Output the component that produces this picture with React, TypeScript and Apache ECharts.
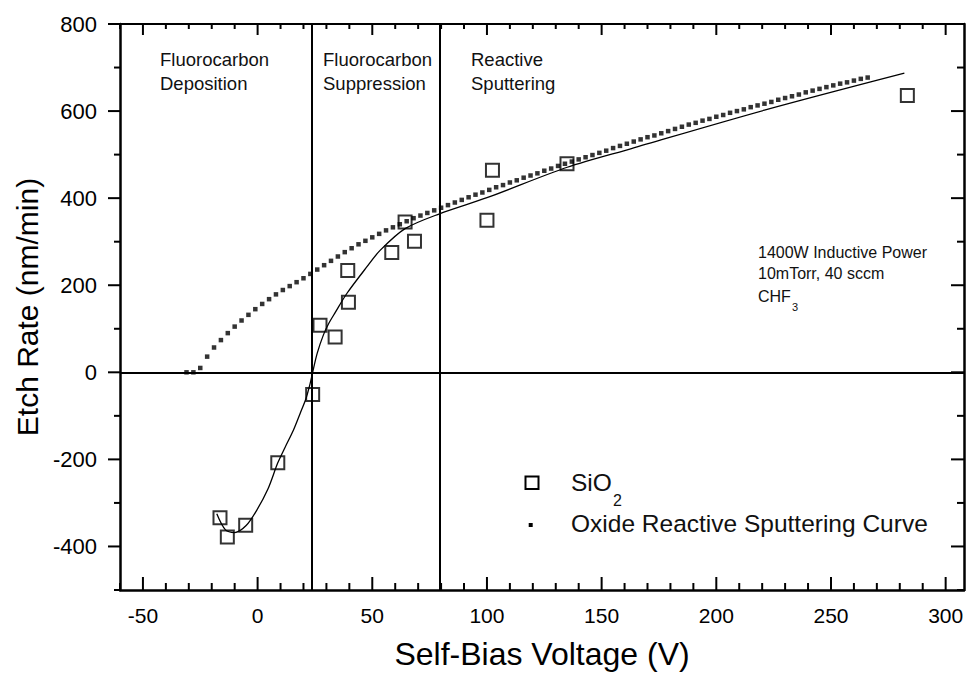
import React, { useEffect, useRef } from 'react';
import * as echarts from 'echarts';

// ---- Data ----
const SIO2_V = [-16.4, -13.2, -5.2, 8.8, 24, 27.2, 33.8, 39.3, 39.6, 58.5, 64.3, 68.4, 100, 102.4, 134.9, 283.3];
const SIO2_ER = [-334, -378, -351, -208, -51, 108, 81, 234, 161, 275, 345, 301, 349, 464, 479, 636];

const FIT_V = [-17.8, -14, -10, -5, -0.4, 4.5, 8.8, 12, 15.6, 18.5, 21.1, 22.9, 24, 26, 28.7, 31, 33.8, 38.9, 47.6, 53.4, 64.3, 79.3, 100, 135, 163, 221, 282];
const FIT_ER = [-325, -362, -368, -352, -317, -268, -208, -172, -133, -95, -60, -26, 0, 44, 86, 112, 137, 181, 242, 280, 330, 364, 401, 471, 514, 602, 687];

const CURVE_V = [-31, -28, -25, -22, -19, -16, -13, -10, -7, -4, -1, 2, 5, 8, 11, 14, 17, 20, 23, 26, 29, 32, 35, 38, 41, 44, 47, 50, 53, 56, 59, 62, 65, 68, 71, 74, 77, 80, 83, 86, 89, 92, 95, 98, 101, 104, 107, 110, 113, 116, 119, 122, 125, 128, 131, 134, 137, 140, 143, 146, 149, 152, 155, 158, 161, 164, 167, 170, 173, 176, 179, 182, 185, 188, 191, 194, 197, 200, 203, 206, 209, 212, 215, 218, 221, 224, 227, 230, 233, 236, 239, 242, 245, 248, 251, 254, 257, 260, 263, 266];
const CURVE_ER = [0, 0, 10, 36, 57, 74, 90, 105, 119, 132, 145, 157, 168, 179, 189, 198, 207, 216, 226, 236, 246, 256, 266, 276, 285, 294, 302, 310, 318, 326, 333, 340, 347, 354, 360, 366, 372, 378, 384, 390, 396, 402, 408, 413, 419, 425, 430, 436, 441, 447, 452, 457, 463, 468, 474, 479, 484, 489, 494, 499, 504, 509, 515, 520, 525, 530, 535, 540, 544, 549, 554, 559, 564, 569, 573, 578, 582, 587, 591, 596, 600, 604, 609, 613, 617, 621, 626, 630, 634, 638, 643, 647, 651, 655, 659, 663, 666, 670, 674, 677];

const REGION_BOUNDARIES = [23.6, 79.3];
const X_TICKS = [-60, -50, -40, -30, -20, -10, 0, 10, 20, 30, 40, 50, 60, 70, 80, 90, 100, 110, 120, 130, 140, 150, 160, 170, 180, 190, 200, 210, 220, 230, 240, 250, 260, 270, 280, 290, 300];
const X_MAJOR_TICKS = [-50, 0, 50, 100, 150, 200, 250, 300];
const Y_TICKS = [-500, -400, -300, -200, -100, 0, 100, 200, 300, 400, 500, 600, 700, 800];
const Y_MAJOR_TICKS = [-400, -200, 0, 200, 400, 600, 800];
const X_MIN = -60;
const X_MAX = 308;
const Y_MIN = -500;
const Y_MAX = 800;

const FONT = '"Liberation Sans", Arial, Helvetica, sans-serif';

export default function App() {
  const ref = useRef<HTMLDivElement>(null);

  useEffect(() => {
    if (!ref.current) return;
    const chart = echarts.init(ref.current, undefined, { renderer: 'svg' });

    const zip = (a: number[], b: number[]) => a.map((v, i) => [v, b[i]]);
    const tickStyle = { stroke: '#000', lineWidth: 2 };

    const baseX = {
      type: 'value',
      min: X_MIN,
      max: X_MAX,
      interval: 10,
      splitLine: { show: false },
      axisTick: { show: false },
    };
    const baseY = {
      type: 'value',
      min: Y_MIN,
      max: Y_MAX,
      interval: 100,
      splitLine: { show: false },
      axisTick: { show: false },
    };

    const option: any = {
      animation: false,
      backgroundColor: '#fff',
      grid: { left: 120, right: 3, top: 24, bottom: 85, containLabel: false },
      xAxis: [
        {
          ...baseX,
          position: 'bottom',
          axisLine: { onZero: false, lineStyle: { color: '#000', width: 2.5 } },
          axisLabel: {
            color: '#000',
            fontSize: 21,
            fontFamily: FONT,
            margin: 15,
            formatter: (v: number) => (Math.round(v) % 50 === 0 ? String(Math.round(v)) : ''),
          },
          name: 'Self-Bias Voltage (V)',
          nameLocation: 'middle',
          nameGap: 48,
          nameTextStyle: { color: '#000', fontSize: 32, fontFamily: FONT },
        },
        {
          ...baseX,
          position: 'top',
          axisLine: { onZero: false, lineStyle: { color: '#000', width: 2 } },
          axisLabel: { show: false },
        },
      ],
      yAxis: [
        {
          ...baseY,
          position: 'left',
          axisLine: { onZero: false, lineStyle: { color: '#000', width: 2.5 } },
          axisLabel: {
            color: '#000',
            fontSize: 22,
            fontFamily: FONT,
            margin: 23,
            formatter: (v: number) => (Math.round(v) % 200 === 0 ? String(Math.round(v)) : ''),
          },
          name: 'Etch Rate (nm/min)',
          nameLocation: 'middle',
          nameRotate: 90,
          nameGap: 77,
          nameTextStyle: { color: '#000', fontSize: 30, fontFamily: FONT },
        },
        {
          ...baseY,
          position: 'right',
          axisLine: { onZero: false, lineStyle: { color: '#000', width: 2.5 } },
          axisLabel: { show: false },
        },
      ],
      series: [
        {
          name: 'Oxide Reactive Sputtering Curve',
          type: 'scatter',
          data: zip(CURVE_V, CURVE_ER),
          symbol: 'rect',
          symbolSize: 4.5,
          itemStyle: { color: '#000' },
          z: 3,
        },
        {
          name: 'Fit',
          type: 'line',
          data: zip(FIT_V, FIT_ER),
          showSymbol: false,
          smooth: 0.3,
          lineStyle: { color: '#000', width: 1.3 },
          z: 4,
          markLine: {
            silent: true,
            symbol: ['none', 'none'],
            label: { show: false },
            lineStyle: { color: '#000', width: 2, type: 'solid' },
            data: [
              ...REGION_BOUNDARIES.map((v) => ({ xAxis: v })),
              { yAxis: 0 },
            ],
          },
        },
        {
          name: 'SiO2',
          type: 'scatter',
          data: zip(SIO2_V, SIO2_ER),
          symbol: 'rect',
          symbolSize: 13,
          itemStyle: { color: 'rgba(0,0,0,0)', borderColor: '#000', borderWidth: 2 },
          z: 5,
        },
        {
          name: 'xTicks',
          type: 'custom',
          silent: true,
          clip: false,
          data: X_TICKS.map((v) => [v, Y_MIN]),
          renderItem: (_p: any, api: any) => {
            const v = api.value(0);
            const major = X_MAJOR_TICKS.indexOf(Math.round(v)) >= 0;
            const b = api.coord([v, Y_MIN]);
            const t = api.coord([v, Y_MAX]);
            const lb = major ? 13 : 7;
            const lt = major ? 11 : 5;
            return {
              type: 'group',
              children: [
                { type: 'line', shape: { x1: b[0], y1: b[1], x2: b[0], y2: b[1] - lb }, style: tickStyle },
                { type: 'line', shape: { x1: t[0], y1: t[1], x2: t[0], y2: t[1] + lt }, style: tickStyle },
              ],
            };
          },
          z: 6,
        },
        {
          name: 'yTicks',
          type: 'custom',
          silent: true,
          clip: false,
          data: Y_TICKS.map((v) => [X_MIN, v]),
          renderItem: (_p: any, api: any) => {
            const v = api.value(1);
            const major = Y_MAJOR_TICKS.indexOf(Math.round(v)) >= 0;
            const l = api.coord([X_MIN, v]);
            const r = api.coord([X_MAX, v]);
            const ll = major ? 12 : 6;
            const lr = major ? 13 : 7;
            return {
              type: 'group',
              children: [
                { type: 'line', shape: { x1: l[0], y1: l[1], x2: l[0] - ll, y2: l[1] }, style: tickStyle },
                { type: 'line', shape: { x1: r[0], y1: r[1], x2: r[0] - lr, y2: r[1] }, style: tickStyle },
              ],
            };
          },
          z: 6,
        },
      ],
      graphic: [
        {
          type: 'text', x: 160, y: 71,
          style: { text: 'Fluorocarbon\nDeposition', fontSize: 18.5, fontFamily: FONT, fill: '#111', verticalAlign: 'middle', lineHeight: 24 },
        },
        {
          type: 'text', x: 323, y: 71,
          style: { text: 'Fluorocarbon\nSuppression', fontSize: 18.5, fontFamily: FONT, fill: '#111', verticalAlign: 'middle', lineHeight: 24 },
        },
        {
          type: 'text', x: 471, y: 71,
          style: { text: 'Reactive\nSputtering', fontSize: 18.5, fontFamily: FONT, fill: '#111', verticalAlign: 'middle', lineHeight: 24 },
        },
        {
          type: 'text', x: 758, y: 252,
          style: { text: '1400W Inductive Power', fontSize: 16, fontFamily: FONT, fill: '#111', verticalAlign: 'middle' },
        },
        {
          type: 'text', x: 758, y: 273.5,
          style: { text: '10mTorr, 40 sccm', fontSize: 16, fontFamily: FONT, fill: '#111', verticalAlign: 'middle' },
        },
        {
          type: 'text', x: 758, y: 296,
          style: { text: 'CHF', fontSize: 16, fontFamily: FONT, fill: '#111', verticalAlign: 'middle' },
        },
        {
          type: 'text', x: 792, y: 307,
          style: { text: '3', fontSize: 11, fontFamily: FONT, fill: '#111', verticalAlign: 'middle' },
        },
        // legend
        {
          type: 'rect', shape: { x: 525.5, y: 476.5, width: 13, height: 12.5 },
          style: { fill: 'none', stroke: '#000', lineWidth: 2 },
        },
        {
          type: 'rect', shape: { x: 528.7, y: 523, width: 4, height: 4 },
          style: { fill: '#000' },
        },
        {
          type: 'text', x: 571, y: 482,
          style: { text: 'SiO', fontSize: 24.5, fontFamily: FONT, fill: '#111', verticalAlign: 'middle' },
        },
        {
          type: 'text', x: 613, y: 500,
          style: { text: '2', fontSize: 16, fontFamily: FONT, fill: '#111', verticalAlign: 'middle' },
        },
        {
          type: 'text', x: 571, y: 523,
          style: { text: 'Oxide Reactive Sputtering Curve', fontSize: 24.5, fontFamily: FONT, fill: '#111', verticalAlign: 'middle' },
        },
      ],
    };

    chart.setOption(option);
    return () => {
      chart.dispose();
    };
  }, []);

  return (
    <div
      ref={ref}
      style={{ position: 'absolute', left: 0, top: 0, width: 967, height: 675, background: '#fff' }}
    />
  );
}
